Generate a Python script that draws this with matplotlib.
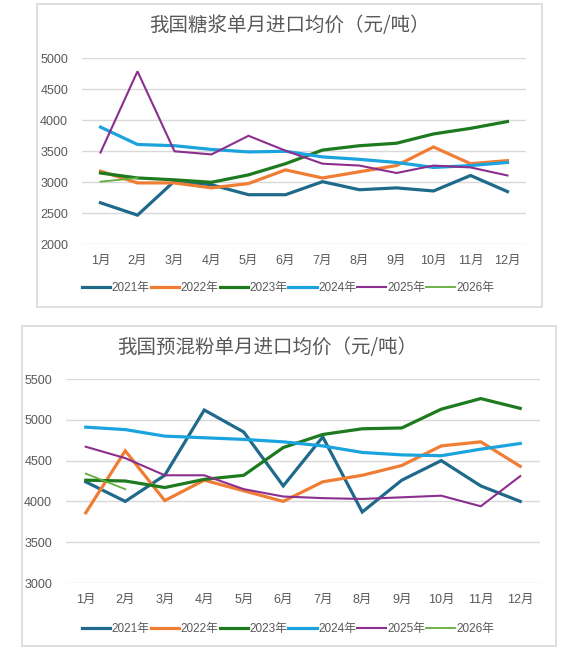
import matplotlib
matplotlib.use("Agg")
import matplotlib.pyplot as plt
from matplotlib.patches import Rectangle

plt.rcParams['font.family'] = ['Liberation Sans', 'Noto Sans CJK SC', 'DejaVu Sans']

months = ['1月', '2月', '3月', '4月', '5月', '6月', '7月', '8月', '9月', '10月', '11月', '12月']
years = ['2021年', '2022年', '2023年', '2024年', '2025年', '2026年']

# 糖浆
syrup_2021 = [2670, 2470, 3020, 2960, 2800, 2800, 3010, 2880, 2910, 2860, 3110, 2850]
syrup_2022 = [3180, 2990, 2990, 2910, 2980, 3200, 3070, 3170, 3270, 3570, 3300, 3350]
syrup_2023 = [3150, 3070, 3040, 3000, 3120, 3300, 3520, 3590, 3630, 3780, 3870, 3980]
syrup_2024 = [3890, 3610, 3590, 3530, 3490, 3500, 3410, 3370, 3320, 3240, 3270, 3320]
syrup_2025 = [3480, 4790, 3500, 3450, 3750, 3510, 3300, 3270, 3150, 3270, 3240, 3110]
syrup_2026 = [3010, 3070]

# 预混粉
premix_2021 = [4240, 4000, 4320, 5120, 4850, 4190, 4790, 3870, 4260, 4500, 4190, 4000]
premix_2022 = [3860, 4620, 4010, 4260, 4130, 4000, 4240, 4320, 4440, 4680, 4730, 4430]
premix_2023 = [4260, 4250, 4170, 4270, 4320, 4660, 4820, 4890, 4900, 5130, 5260, 5140]
premix_2024 = [4910, 4880, 4800, 4780, 4760, 4730, 4680, 4600, 4570, 4560, 4640, 4710]
premix_2025 = [4670, 4530, 4320, 4320, 4150, 4060, 4040, 4030, 4050, 4070, 3940, 4310]
premix_2026 = [4340, 4150]

colors = ['#1F6A8A', '#F07D34', '#1E7A1E', '#1BA3DE', '#8C2E8E', '#62AD3C']
widths = [2.3, 2.3, 2.3, 2.3, 1.5, 1.3]

W, H = 568, 653
fig = plt.figure(figsize=(W / 100, H / 100), dpi=100)

def px_rect(x0, y0, x1, y1):
    return [x0 / W, 1 - y1 / H, (x1 - x0) / W, (y1 - y0) / H]

# panel borders
for (x0, y0, x1, y1) in [(37, 4, 542, 307), (22, 326, 556, 646)]:
    r = Rectangle((x0 / W, 1 - y1 / H), (x1 - x0) / W, (y1 - y0) / H,
                  transform=fig.transFigure, fill=False, edgecolor='#D9D9D9', linewidth=1.2)
    fig.patches.append(r)

def draw(ax, series, ylim, yticks, title, title_xy, legend_y):
    x = list(range(len(months)))
    handles = []
    for s, c, lw, lab in zip(series, colors, widths, years):
        h, = ax.plot(x[:len(s)], s, color=c, linewidth=lw, label=lab, solid_joinstyle='miter')
        handles.append(h)
    ax.set_xlim(-0.5, 11.5)
    ax.set_ylim(*ylim)
    ax.set_yticks(yticks)
    ax.set_xticks(x)
    ax.set_xticklabels(months)
    ax.grid(axis='y', color='#D9D9D9', linewidth=1)
    ax.set_axisbelow(True)
    for sp in ax.spines.values():
        sp.set_visible(False)
    ax.tick_params(axis='both', length=0, labelsize=9, colors='#595959')
    ax.tick_params(axis='y', pad=10)
    ax.tick_params(axis='x', pad=8)
    fig.text(title_xy[0] / W, 1 - title_xy[1] / H, title, ha='center', va='center',
             fontsize=14, color='#595959', family=['Noto Sans CJK SC', 'DejaVu Sans'])
    fig.legend(handles=handles, loc='center', bbox_to_anchor=(288 / W, 1 - legend_y / H),
               ncol=6, frameon=False, fontsize=8.5, handlelength=2.4, handletextpad=0.12,
               columnspacing=0.1, labelcolor='#595959', borderaxespad=0, borderpad=0)

ax1 = fig.add_axes(px_rect(82, 58.3, 526, 244.3))
draw(ax1, [syrup_2021, syrup_2022, syrup_2023, syrup_2024, syrup_2025, syrup_2026],
     (2000, 5000), range(2000, 5001, 500), '我国糖浆单月进口均价（元/吨）', (290, 26), 288)

ax2 = fig.add_axes(px_rect(66, 379, 540, 583))
draw(ax2, [premix_2021, premix_2022, premix_2023, premix_2024, premix_2025, premix_2026],
     (3000, 5500), range(3000, 5501, 500), '我国预混粉单月进口均价（元/吨）', (267, 347), 629)

fig.savefig('out.png', dpi=100)
